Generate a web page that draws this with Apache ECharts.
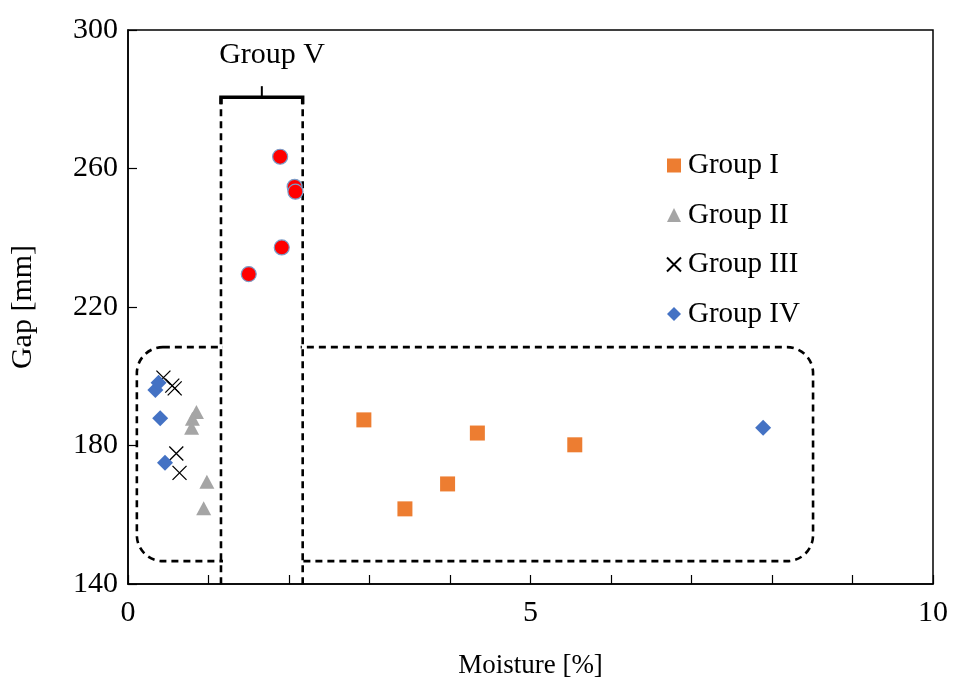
<!DOCTYPE html>
<html>
<head>
<meta charset="utf-8">
<script src="https://cdn.jsdelivr.net/npm/echarts@6/dist/echarts.min.js"></script>
<style>
  html, body { margin: 0; padding: 0; background: #fff; }
  #chart { width: 964px; height: 689px; }
</style>
</head>
<body>
<div id="chart"></div>
<script>
// Moisture [%] vs gap [mm] for each group
const groupI   = [[2.93, 187.4], [3.44, 161.7], [3.97, 168.9], [4.34, 183.6], [5.55, 180.2]];
const groupII  = [[0.85, 189.7], [0.80, 187.7], [0.79, 185.1], [0.98, 169.5], [0.94, 161.9]];
const groupIII = [[0.44, 199.6], [0.55, 197.3], [0.58, 196.5], [0.60, 177.7], [0.64, 172.1]];
const groupIV  = [[0.34, 196.0], [0.38, 198.1], [0.40, 187.9], [0.46, 175.0], [7.89, 185.1]];
const groupV   = [[1.89, 263.4], [2.07, 254.7], [2.08, 253.3], [1.91, 237.2], [1.50, 229.5]];

const xTicks = [0, 5, 10];
const yTicks = [140, 180, 220, 260, 300];

// Enclosures drawn in data units
const lowerBox = { x0: 0.11, x1: 8.51, y0: 146.6, y1: 208.4 };
const columnV  = { x0: 1.155, x1: 2.17, yTop: 280.6, yBottom: 138.6 };
const labelV   = { x: 1.79, y: 292.8, text: 'Group V' };

const serif = '"Liberation Serif", "DejaVu Serif", serif';
const crossPath = 'path://M0,0L10,10M10,0L0,10';

const chart = echarts.init(document.getElementById('chart'));

const option = {
  backgroundColor: '#fff',
  animation: false,
  textStyle: { fontFamily: serif },
  grid: {
    left: 128, right: 31, top: 30, bottom: 105,
    show: true, borderColor: '#000', borderWidth: 1.5
  },
  legend: {
    orient: 'vertical',
    left: 661, top: 146,
    itemGap: 20.5,
    itemWidth: 14, itemHeight: 14,
    textStyle: { fontFamily: serif, fontSize: 29, color: '#000', padding: [0, 0, 0, 2] },
    data: ['Group I', 'Group II', 'Group III', 'Group IV']
  },
  xAxis: {
    type: 'value', min: 0, max: 10, interval: 1,
    name: 'Moisture [%]', nameLocation: 'middle', nameGap: 68,
    nameTextStyle: { fontFamily: serif, fontSize: 27, color: '#000' },
    axisLine: { lineStyle: { color: '#000', width: 1.5 } },
    axisTick: { inside: true, length: 9, lineStyle: { color: '#000', width: 1.2 } },
    axisLabel: {
      fontFamily: serif, fontSize: 30, color: '#000', margin: 14,
      formatter: v => xTicks.includes(v) ? String(v) : ''
    },
    splitLine: { show: false }
  },
  yAxis: {
    type: 'value', min: yTicks[0], max: yTicks[yTicks.length - 1], interval: 40,
    name: 'Gap [mm]', nameLocation: 'middle', nameGap: 90, nameRotate: 90,
    nameTextStyle: { fontFamily: serif, fontSize: 30, color: '#000' },
    axisLine: { lineStyle: { color: '#000', width: 1.5 } },
    axisTick: { inside: true, length: 9, lineStyle: { color: '#000', width: 1.2 } },
    axisLabel: { fontFamily: serif, fontSize: 30, color: '#000', margin: 10 },
    splitLine: { show: false }
  },
  series: [
    {
      name: 'Group I', type: 'scatter', data: groupI,
      symbol: 'rect', symbolSize: 15,
      itemStyle: { color: '#ED7D31', opacity: 1 }, z: 5
    },
    {
      name: 'Group II', type: 'scatter', data: groupII,
      symbol: 'triangle', symbolSize: [15, 14],
      itemStyle: { color: '#A5A5A5', opacity: 1 }, z: 5
    },
    {
      name: 'Group III', type: 'scatter', data: groupIII,
      symbol: crossPath, symbolSize: 14,
      itemStyle: { color: 'rgba(0,0,0,0)', borderColor: '#000', borderWidth: 1.3, opacity: 1 }, z: 5
    },
    {
      name: 'Group IV', type: 'scatter', data: groupIV,
      symbol: 'diamond', symbolSize: 16,
      itemStyle: { color: '#4472C4', opacity: 1 }, z: 5
    },
    {
      name: 'Group V', type: 'scatter', data: groupV,
      symbol: 'circle', symbolSize: 15,
      itemStyle: { color: '#FF0000', borderColor: '#7A9CC8', borderWidth: 1.2, opacity: 1 }, z: 5
    }
  ]
};

chart.setOption(option);

function px(x, y) { return chart.convertToPixel({ gridIndex: 0 }, [x, y]); }

const dash = { stroke: '#000', lineWidth: 2.6, lineDash: [7, 5], fill: 'none' };

const a = px(lowerBox.x0, lowerBox.y1);
const b = px(lowerBox.x1, lowerBox.y0);
const c0 = px(columnV.x0, columnV.yTop);
const c1 = px(columnV.x1, columnV.yBottom);
const t = px(labelV.x, labelV.y);
const midX = (c0[0] + c1[0]) / 2;

chart.setOption({
  graphic: [
    // rounded enclosure around groups I-IV
    { type: 'rect', z: 1, silent: true,
      shape: { x: a[0], y: a[1], width: b[0] - a[0], height: b[1] - a[1], r: 26 },
      style: dash },
    // break in the enclosure where the Group V column crosses it
    { type: 'rect', z: 2, silent: true,
      shape: { x: c0[0] + 2, y: a[1] - 3, width: c1[0] - c0[0] - 4, height: 6 },
      style: { fill: '#fff' } },
    { type: 'rect', z: 2, silent: true,
      shape: { x: c0[0] + 2, y: b[1] - 3, width: c1[0] - c0[0] - 4, height: 6 },
      style: { fill: '#fff' } },
    // Group V column edges
    { type: 'line', z: 3, silent: true,
      shape: { x1: c0[0], y1: c0[1], x2: c0[0], y2: c1[1] }, style: dash },
    { type: 'line', z: 3, silent: true,
      shape: { x1: c1[0], y1: c0[1], x2: c1[0], y2: c1[1] }, style: dash },
    // bracket over Group V
    { type: 'polyline', z: 3, silent: true,
      shape: { points: [[c0[0], c0[1] + 7], [c0[0], c0[1]], [c1[0], c0[1]], [c1[0], c0[1] + 7]] },
      style: { stroke: '#000', lineWidth: 3.5, fill: 'none' } },
    { type: 'line', z: 3, silent: true,
      shape: { x1: midX, y1: c0[1], x2: midX, y2: c0[1] - 11 },
      style: { stroke: '#000', lineWidth: 2 } },
    { type: 'text', z: 3, silent: true,
      x: t[0], y: t[1],
      style: { text: labelV.text, font: '30px ' + serif, fill: '#000',
               align: 'center', verticalAlign: 'middle' } }
  ]
});
</script>
</body>
</html>
